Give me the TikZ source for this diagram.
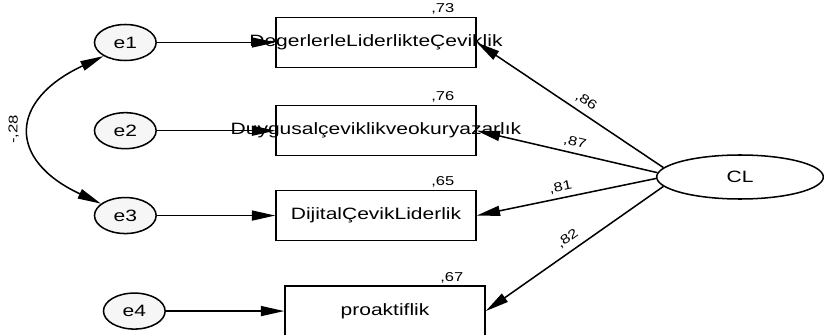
\documentclass[tikz,border=0pt]{standalone}
\usepackage{fontspec}
\setmainfont{Liberation Sans}[FakeStretch=1.28]
\usetikzlibrary{shapes.geometric, arrows.meta, positioning}
\tikzset{
  obsv/.style={draw, line width=1.3pt, fill=white, minimum width=6cm, minimum height=1.5cm, inner sep=0pt},
  errv/.style={draw, ellipse, line width=1.3pt, fill=gray!7, minimum width=1.85cm, minimum height=1.08cm, inner sep=0pt},
  latv/.style={draw, ellipse, line width=1.3pt, fill=white, minimum width=5cm, minimum height=1.32cm},
  num/.style={font=\fontsize{11}{12}\selectfont, inner sep=2pt},
  arr/.style={-{Triangle[length=7mm, width=3mm]}, line width=1.3pt},
  rarr/.style={{Triangle[length=7mm, width=3mm]}-, line width=1.3pt},
  covarr/.style={{Triangle[length=7mm, width=3mm]}-{Triangle[length=7mm, width=3mm]}, line width=1.3pt},
}
\begin{document}
\begin{tikzpicture}[font=\fontsize{14}{16}\selectfont]
  \useasboundingbox (0,0) rectangle (24.72,-10.05);
  % observed variables
  \node[obsv] (b1) at (11.28,-1.275) {\makebox[0pt]{DegerlerleLiderlikteÇeviklik}};
  \node[obsv, below=1.1cm of b1] (b2) {\makebox[0pt]{Duygusalçeviklikveokuryazarlık}};
  \node[obsv, below=1cm of b2] (b3) {\makebox[0pt]{DijitalÇevikLiderlik}};
  \node[obsv, below=1.32cm of b3, xshift=0.27cm] (b4) {\makebox[0pt]{proaktiflik}};
  % squared multiple correlations
  \node[num, anchor=south east] (r1) at ([xshift=-6mm]b1.north east) {,73};
  \node[num, anchor=south east] (r2) at ([xshift=-6mm]b2.north east) {,76};
  \node[num, anchor=south east] (r3) at ([xshift=-6mm]b3.north east) {,65};
  \node[num, anchor=south east] (r4) at ([xshift=-6mm]b4.north east) {,67};
  % error terms
  \node[errv, left=3.55cm of b1] (e1) {e1};
  \node[errv, left=3.55cm of b2] (e2) {e2};
  \node[errv, left=3.55cm of b3] (e3) {e3};
  \node[errv, left=3.55cm of b4] (e4) {e4};
  % latent factor
  \node[latv] (CL) at (22.2,-5.31) {CL};
  \draw[arr] (e1) -- (b1);
  \draw[arr] (e2) -- (b2);
  \draw[arr] (e3) -- (b3);
  \draw[arr] (e4) -- (b4);
  \draw[rarr] (b1.east) -- node[num, sloped, above=3pt, pos=0.55] (l1) {,86} (CL.173);
  \draw[rarr] (b2.east) -- node[num, sloped, above=2pt, pos=0.53] (l2) {,87} (CL.177);
  \draw[rarr] (b3.east) -- node[num, sloped, above=2pt, pos=0.48] (l3) {,81} (CL.181);
  \draw[rarr] (b4.east) -- node[num, sloped, above=3pt, pos=0.5] (l4) {,82} (CL.187);
  % covariance e1--e3
  \draw[covarr] (e3.154) to[out=155, in=205, looseness=1.8] node[num, sloped, above=8pt] (c13) {-,28} (e1.212);
\end{tikzpicture}
\end{document}
